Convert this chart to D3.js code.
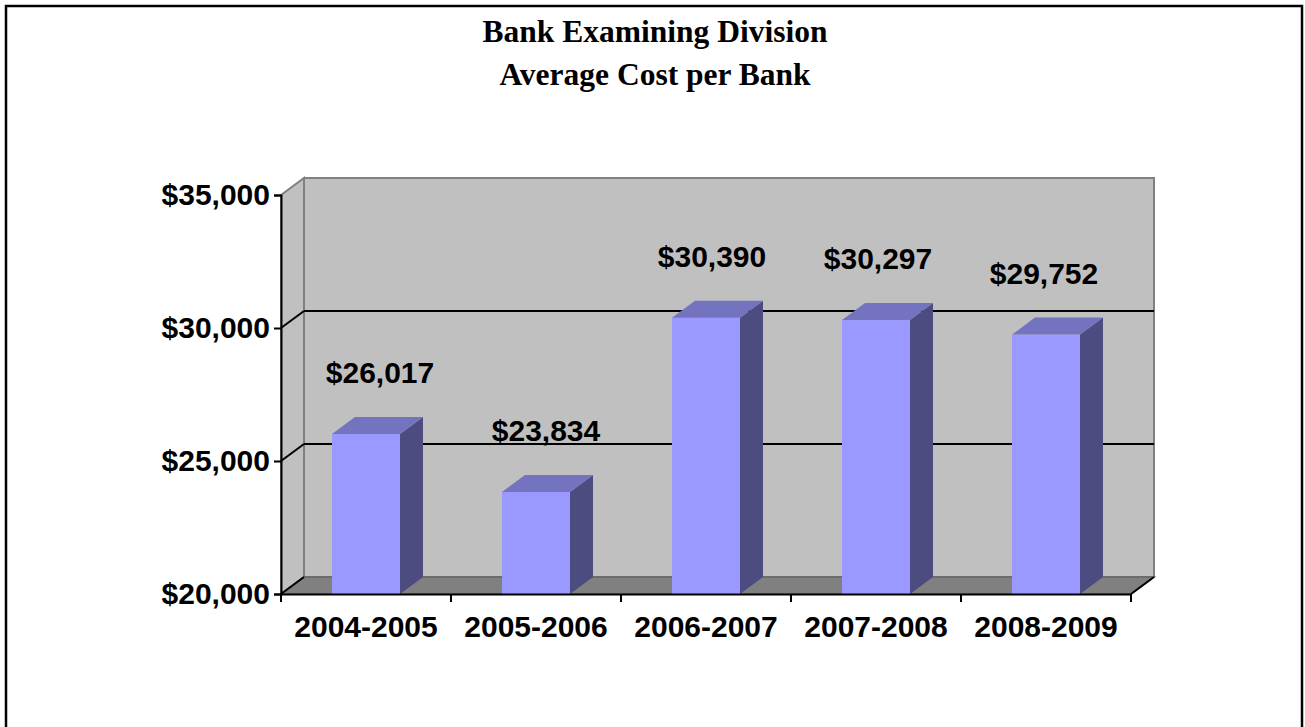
<!DOCTYPE html>
<html>
<head>
<meta charset="utf-8">
<script src="https://cdn.jsdelivr.net/npm/d3@7"></script>
<style>
  body { margin: 0; background: #fff; }
  svg { display: block; }
</style>
</head>
<body>
<div id="my_dataviz"></div>
<script>
// chart data
var titleLines = ["Bank Examining Division", "Average Cost per Bank"];
var categories = ["2004-2005", "2005-2006", "2006-2007", "2007-2008", "2008-2009"];
var costs = [26017, 23834, 30390, 30297, 29752];
var yTicks = [20000, 25000, 30000, 35000];

// page size and plot frame (front plane)
var W = 1305, H = 727;
var plotLeft = 281, plotRight = 1131, plotTop = 195, plotBottom = 594;
// depth of the 3d box
var dx = 23, dy = -17;

var svg = d3.select("#my_dataviz")
  .append("svg")
    .attr("width", W)
    .attr("height", H);

// outer border
svg.append("rect")
  .attr("x", 6).attr("y", 6)
  .attr("width", W - 9).attr("height", H + 10)
  .attr("fill", "none")
  .attr("stroke", "#000")
  .attr("stroke-width", 2.5);

// title
svg.append("g").selectAll("text")
  .data(titleLines)
  .enter()
  .append("text")
    .attr("x", 655)
    .attr("y", function(d, i) { return 42 + i * 43; })
    .attr("text-anchor", "middle")
    .style("font-family", "'Liberation Serif', 'Times New Roman', serif")
    .style("font-weight", "bold")
    .style("font-size", "31.5px")
    .text(function(d) { return d; });

// scales
var y = d3.scaleLinear()
  .domain([20000, 35000])
  .range([plotBottom, plotTop]);

var x = d3.scaleBand()
  .domain(categories)
  .range([plotLeft, plotRight])
  .paddingInner(0.6)
  .paddingOuter(0.3);

function pts(a) { return a.map(function(p) { return p.join(","); }).join(" "); }

var y0 = y(20000), y1 = y(35000);

// back wall
svg.append("rect")
  .attr("x", plotLeft + dx).attr("y", y1 + dy)
  .attr("width", plotRight - plotLeft).attr("height", y0 - y1)
  .attr("fill", "#c0c0c0")
  .attr("stroke", "#808080")
  .attr("stroke-width", 2);

// left wall
svg.append("polygon")
  .attr("points", pts([[plotLeft, y1], [plotLeft + dx, y1 + dy], [plotLeft + dx, y0 + dy], [plotLeft, y0]]))
  .attr("fill", "#c0c0c0")
  .attr("stroke", "#808080")
  .attr("stroke-width", 2);

// floor
svg.append("polygon")
  .attr("points", pts([[plotLeft, y0], [plotLeft + dx, y0 + dy], [plotRight + dx, y0 + dy], [plotRight, y0]]))
  .attr("fill", "#808080")
  .attr("stroke", "#666")
  .attr("stroke-width", 1.5);
svg.append("line")
  .attr("x1", plotRight).attr("y1", y0)
  .attr("x2", plotRight + dx).attr("y2", y0 + dy)
  .attr("stroke", "#000").attr("stroke-width", 2);
svg.append("line")
  .attr("x1", plotLeft).attr("y1", y0)
  .attr("x2", plotLeft + dx).attr("y2", y0 + dy)
  .attr("stroke", "#000").attr("stroke-width", 2);

// gridlines on back wall and left wall
var grid = svg.append("g");
yTicks.filter(function(t) { return t > 20000 && t < 35000; }).forEach(function(t) {
  grid.append("line")
    .attr("x1", plotLeft + dx).attr("x2", plotRight + dx)
    .attr("y1", y(t) + dy).attr("y2", y(t) + dy)
    .attr("stroke", "#000").attr("stroke-width", 2);
  grid.append("line")
    .attr("x1", plotLeft).attr("x2", plotLeft + dx)
    .attr("y1", y(t)).attr("y2", y(t) + dy)
    .attr("stroke", "#000").attr("stroke-width", 2);
});

// bars
var bars = svg.append("g").selectAll("g")
  .data(costs)
  .enter()
  .append("g");

bars.append("rect")
  .attr("x", function(d, i) { return x(categories[i]); })
  .attr("y", function(d) { return y(d); })
  .attr("width", x.bandwidth())
  .attr("height", function(d) { return y0 - y(d); })
  .attr("fill", "#9999ff");

bars.append("polygon")
  .attr("points", function(d, i) {
    var a = x(categories[i]) + x.bandwidth(), t = y(d);
    return pts([[a, t], [a + dx, t + dy], [a + dx, y0 + dy], [a, y0]]);
  })
  .attr("fill", "#4c4c80");

bars.append("polygon")
  .attr("points", function(d, i) {
    var a = x(categories[i]), b = a + x.bandwidth(), t = y(d);
    return pts([[a, t], [a + dx, t + dy], [b + dx, t + dy], [b, t]]);
  })
  .attr("fill", "#7373bf");

// value labels (slight perspective shift, like the 3d original)
var fmt = d3.format(",");
bars.append("text")
  .attr("x", function(d, i) { return x(categories[i]) + x.bandwidth() / 2 + 14 - 4 * i; })
  .attr("y", function(d) { return y(d) + dy - 34; })
  .attr("text-anchor", "middle")
  .style("font-family", "'Liberation Sans', Arial, sans-serif")
  .style("font-weight", "bold")
  .style("font-size", "30px")
  .text(function(d) { return "$" + fmt(d); });

// y axis
var yAxis = svg.append("g")
  .attr("transform", "translate(" + plotLeft + ",0)")
  .call(d3.axisLeft(y).tickValues(yTicks).tickSize(7).tickPadding(4)
    .tickFormat(function(d) { return "$" + fmt(d); }));

// x axis: labels at centres, ticks at category boundaries
var xAxis = svg.append("g")
  .attr("transform", "translate(0," + plotBottom + ")")
  .call(d3.axisBottom(x).tickSize(0).tickPadding(22));

xAxis.selectAll(".bound")
  .data(d3.range(categories.length + 1))
  .enter()
  .append("line")
    .attr("x1", function(i) { return plotLeft + i * x.step(); })
    .attr("x2", function(i) { return plotLeft + i * x.step(); })
    .attr("y1", 0).attr("y2", 8)
    .attr("stroke", "#000").attr("stroke-width", 2);

[yAxis, xAxis].forEach(function(g) {
  g.select(".domain").attr("stroke", "#000").attr("stroke-width", 2);
  g.selectAll(".tick line").attr("stroke", "#000").attr("stroke-width", 2);
  g.selectAll("text")
    .attr("fill", "#000")
    .style("font-family", "'Liberation Sans', Arial, sans-serif")
    .style("font-weight", "bold")
    .style("font-size", "30px");
});
</script>
</body>
</html>
